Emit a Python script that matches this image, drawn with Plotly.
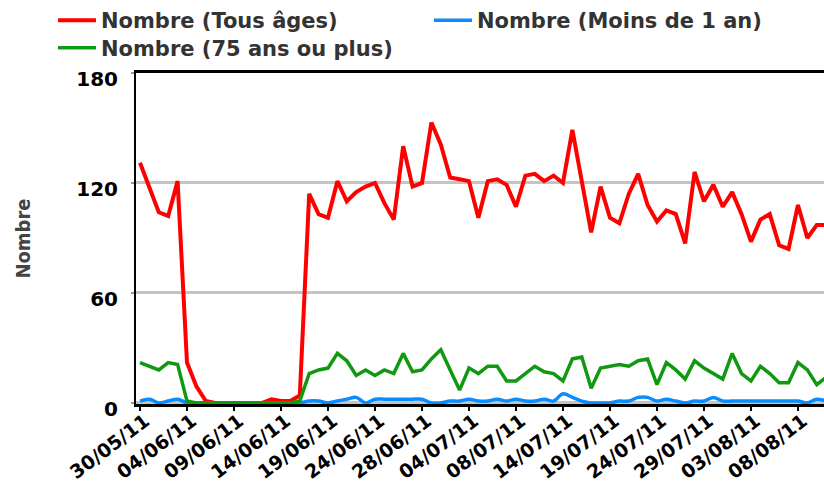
import pandas as pd
import plotly.graph_objects as go

dates = pd.date_range("2011-05-30", periods=74).strftime("%d/%m/%y").tolist()

tous_ages = [131, 118, 104, 102, 121, 22, 9, 1, 0, 0, 0, 0, 0, 0, 2, 1, 1, 4,
             114, 103, 101, 121, 110, 115, 118, 120, 109, 100, 140, 118, 120,
             153, 141, 123, 122, 121, 101, 121, 122, 119, 107, 124, 125, 121,
             124, 120, 149, 120, 93, 118, 101, 98, 114, 125, 108, 99, 105, 103,
             87, 126, 110, 119, 107, 115, 103, 88, 100, 103, 86, 84, 108, 90,
             97, 97]
moins_1an = [1, 2, 0, 1, 2, 0, 0, 0, 0, 0, 0, 0, 0, 0, 0, 0, 0, 0, 1, 1, 0, 1,
             2, 3, 0, 2, 2, 2, 2, 2, 2, 0, 0, 1, 1, 2, 1, 1, 2, 1, 2, 1, 1, 2,
             1, 5, 3, 1, 0, 0, 0, 1, 1, 3, 3, 1, 2, 1, 0, 1, 1, 3, 1, 1, 1, 1,
             1, 1, 1, 1, 1, 0, 2, 1]
plus_75 = [22, 20, 18, 22, 21, 1, 0, 0, 0, 0, 0, 0, 0, 0, 0, 0, 0, 1, 16, 18,
           19, 27, 23, 15, 18, 15, 18, 16, 27, 17, 18, 24, 29, 18, 7, 19, 16,
           20, 20, 12, 12, 16, 20, 17, 16, 12, 24, 25, 8, 19, 20, 21, 20, 23,
           24, 10, 22, 18, 13, 23, 19, 16, 13, 27, 16, 12, 20, 16, 11, 11, 22,
           18, 10, 14]

tick_labels = ["30/05/11", "04/06/11", "09/06/11", "14/06/11", "19/06/11",
               "24/06/11", "28/06/11", "04/07/11", "08/07/11", "14/07/11",
               "19/07/11", "24/07/11", "29/07/11", "03/08/11", "08/08/11"]
tick_positions = dates[0::5]
y_ticks = [0, 60, 120, 180]

fig = go.Figure()
fig.add_trace(go.Scatter(x=dates, y=tous_ages, mode="lines",
                         name="Nombre (Tous âges)", legend="legend", showlegend=True,
                         line=dict(color="#ff0000", width=4)))
fig.add_trace(go.Scatter(x=dates, y=moins_1an, mode="lines",
                         name="Nombre (Moins de 1 an)", legend="legend2", showlegend=True,
                         line=dict(color="#0a8cff", width=3.5, shape="spline", smoothing=1)))
fig.add_trace(go.Scatter(x=dates, y=plus_75, mode="lines",
                         name="Nombre (75 ans ou plus)", legend="legend3", showlegend=True,
                         line=dict(color="#109910", width=3.5)))

legend_font = dict(family="DejaVu Sans", size=21, color="#333333", weight="bold")
common_leg = dict(orientation="h", xref="container", yref="container",
                  xanchor="left", yanchor="top", font=legend_font,
                  itemwidth=38, bgcolor="rgba(0,0,0,0)")

fig.update_layout(
    width=824, height=484,
    showlegend=True,
    margin=dict(l=136, r=0, t=73, b=80, autoexpand=False),
    paper_bgcolor="white", plot_bgcolor="white",
    font=dict(family="DejaVu Sans", color="#000000"),
    legend=dict(x=0.0643, y=1.0, **common_leg),
    legend2=dict(x=0.5206, y=1.0, **common_leg),
    legend3=dict(x=0.0643, y=0.943, **common_leg),
    xaxis=dict(type="category", range=[-0.4255, 72.77],
               tickmode="array", tickvals=tick_positions, ticktext=tick_labels,
               tickangle=-37, tickfont=dict(family="DejaVu Sans", size=19, color="#000", weight="bold"),
               ticks="outside", ticklen=4, tickwidth=2, tickcolor="#000",
               ticklabelstandoff=-8, ticklabelshift=5,
               showline=True, linecolor="#000", linewidth=2.5, mirror=True,
               showgrid=False, zeroline=False),
    yaxis=dict(range=[-0.6, 180], tickmode="array", tickvals=y_ticks,
               tickfont=dict(family="DejaVu Sans", size=20, color="#000", weight="bold"),
               ticks="outside", ticklen=3, tickcolor="#999", tickwidth=2,
               ticklabelstandoff=9, ticklabelshift=6,
               showline=True, linecolor="#000", linewidth=2,
               showgrid=True, gridcolor="#c4c4c4", gridwidth=2.5, zeroline=False,
               title=dict(text="Nombre", standoff=40,
                          font=dict(family="'DejaVu Sans Condensed', 'Liberation Sans'", size=20, color="#444444", weight="bold"))),
)

fig.write_html("out.html", config={"displayModeBar": False},
               post_script="document.body.style.margin='0';")
